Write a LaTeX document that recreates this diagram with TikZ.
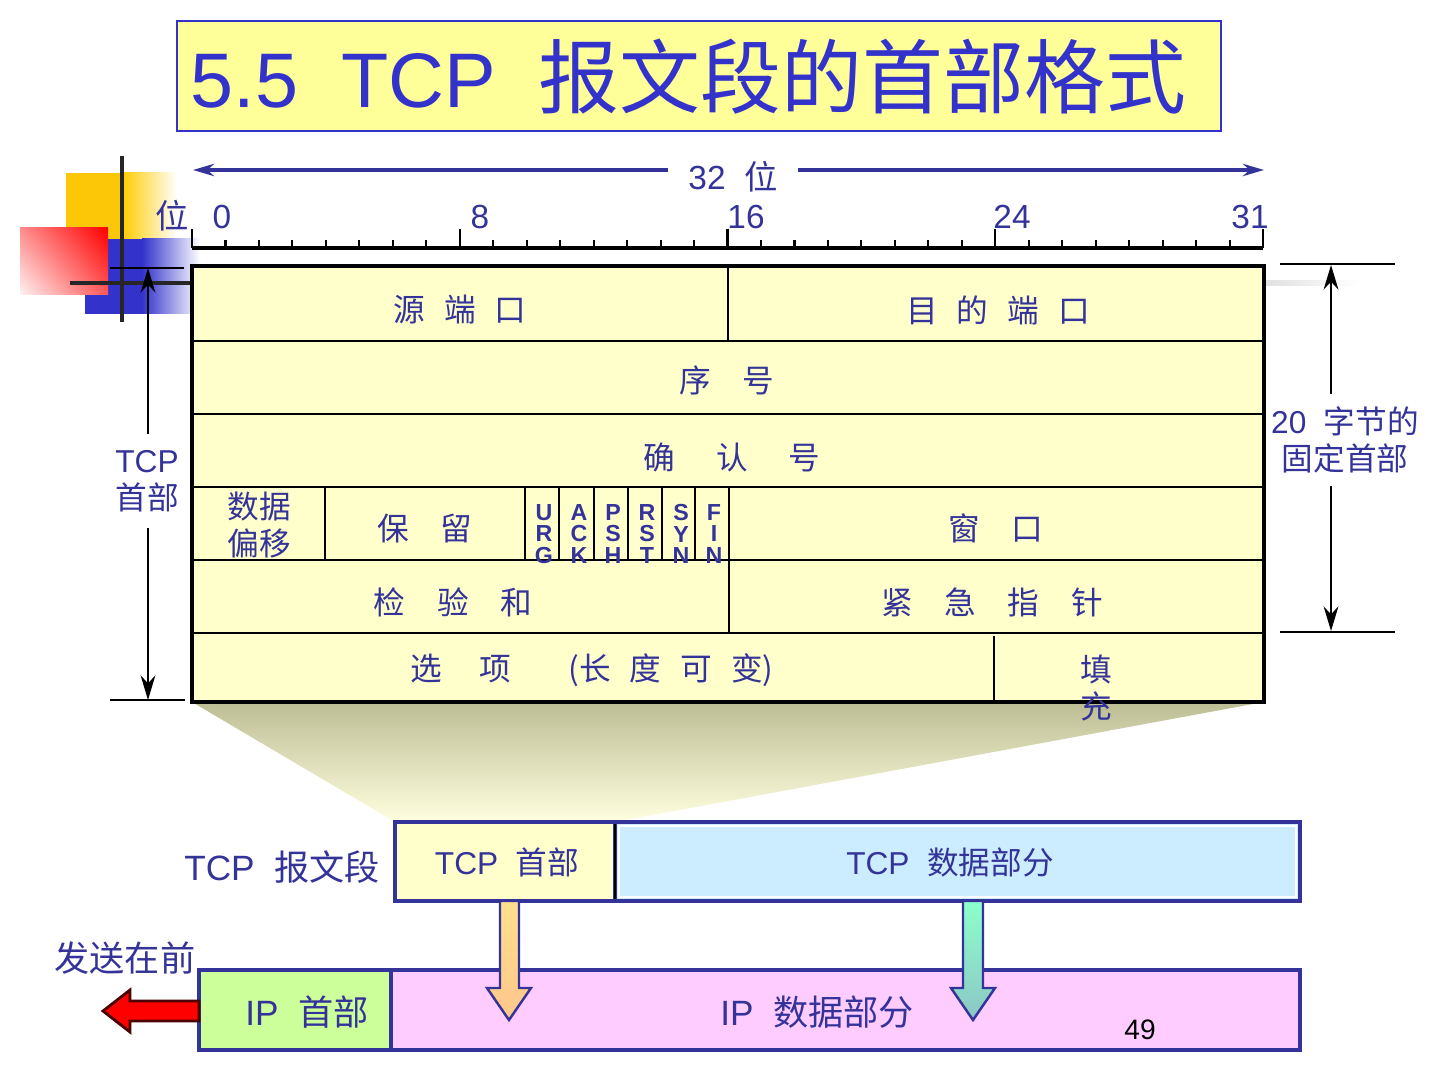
\documentclass[tikz,border=0pt]{standalone}
\usepackage{fontspec}
\setmainfont{Liberation Sans}
\newfontfamily\cjk{Noto Sans CJK SC}
\newcommand{\zh}[1]{{\cjk #1}}
\usetikzlibrary{arrows.meta,shadings}
\definecolor{navy}{HTML}{333399}
\definecolor{titleblue}{HTML}{3333CC}
\definecolor{hdrfill}{HTML}{FFFFCC}
\definecolor{titlefill}{HTML}{FFFF99}
\definecolor{datablue}{HTML}{CCECFF}
\definecolor{ipgreen}{HTML}{CCFF99}
\definecolor{ippink}{HTML}{FFCCFF}
\definecolor{fantop}{HTML}{BDBD94}
\definecolor{fanbot}{HTML}{FFFFE0}

\begin{document}
\begin{tikzpicture}[x=0.01cm,y=-0.01cm,>={Stealth[length=7pt,width=4.2pt]},
  lbltxt/.style={text=navy,inner sep=0pt,font=\fontsize{9}{10.5}\selectfont},
  zhtxt/.style={lbltxt,font=\fontsize{9}{10.5}\selectfont\cjk},
  bigtxt/.style={text=navy,inner sep=0pt,font=\fontsize{10}{12}\selectfont},
  numtxt/.style={text=navy,inner sep=0pt,anchor=base,font=\fontsize{9.5}{11}\selectfont},
  flagtxt/.style={text=navy,inner sep=0pt,align=center,font=\fontsize{6.6}{6.2}\selectfont\bfseries},
  cellline/.style={line width=0.8pt},
  dimline/.style={line width=0.6pt},
  boxline/.style={draw=navy,line width=0.9pt}]
\useasboundingbox (0,0) rectangle (1440,1080);

\fill[yellow!60!orange] (66,173) rectangle (123,240);
\shade[left color=yellow!60!orange,right color=white] (122,173) rectangle (177,240);
\fill[titleblue] (85,239) rectangle (143,314);
\shade[left color=titleblue,right color=white] (142,239) rectangle (200,314);
\shade[upper left=red!45,upper right=red,lower left=red!5,lower right=red!65] (20,228) rectangle (108,295);
\draw[line width=1.4pt,black!85] (122,156) -- (122,322);
\draw[line width=1.4pt,black!85] (70,283) -- (192,283);
\shade[left color=black!12,right color=white] (1266,281) rectangle (1360,286);

\draw[titleblue,fill=titlefill,line width=0.6pt] (177,21) rectangle (1221,131);
\node[anchor=base west,inner sep=0pt,text=titleblue] (title) at (190,108)
  {\fontsize{22}{26}\selectfont 5.5\ \ TCP\ \ \fontsize{23}{28}\selectfont\zh{报文段的首部格式}};

\node[lbltxt,inner xsep=5.5pt,font=\fontsize{9.5}{11}\selectfont] (bits) at (733,177) {32\ \ \zh{位}};
\coordinate (bitsL) at (193,170);
\coordinate (bitsR) at (1264,170);
\draw[->,navy,line width=0.9pt,>={Stealth[length=6pt,width=3.5pt]}] (bits.west |- bitsL) -- (bitsL);
\draw[->,navy,line width=0.9pt,>={Stealth[length=6pt,width=3.5pt]}] (bits.east |- bitsR) -- (bitsR);

\draw[line width=0.9pt] (192,248) -- (1263,248);
\foreach \i in {0,...,32} \draw[line width=0.6pt] ({192+33.47*\i},248) -- ({192+33.47*\i},240);
\foreach \i in {0,8,16,24,32} \draw[line width=0.6pt] ({192+33.47*\i},248) -- ({192+33.47*\i},229);
\node[numtxt] (bitword) at (172,229) {\zh{位}};
\node[numtxt] (bit0) at (222,229) {0};
\node[numtxt] (bit8) at (480,229) {8};
\node[numtxt] (bit16) at (746,229) {16};
\node[numtxt] (bit24) at (1012,229) {24};
\node[numtxt] (bit31) at (1250,229) {31};

\shade[top color=fantop,bottom color=fanbot] (192,702) -- (1264,702) -- (615,822) -- (395,822) -- cycle;

\fill[hdrfill] (192,266) rectangle (1264,702);
\foreach \y in {341,414,487,560,633} \draw[cellline] (192,\y) -- (1264,\y);
\draw[cellline] (728,266) -- (728,341);
\draw[cellline] (325,487) -- (325,560);
\draw[cellline] (525,487) -- (525,560);
\foreach \x in {559,594,628,662,695} \draw[line width=0.6pt] (\x,487) -- (\x,560);
\draw[cellline] (729,487) -- (729,633);
\draw[line width=0.5pt] (994,636) -- (994,700);
\draw[line width=1.3pt] (192,266) rectangle (1264,702);

\node[zhtxt] (srcport) at (460,310) {源\hspace{.6em}端\hspace{.6em}口};
\node[zhtxt] (dstport) at (998,310) {目\hspace{.6em}的\hspace{.6em}端\hspace{.6em}口};
\node[zhtxt] (seqno) at (727,380) {序\hspace{1em}号};
\node[zhtxt] (ackno) at (732,457) {确\hspace{1.3em}认\hspace{1.3em}号};
\node[zhtxt,align=center] (offset) at (259,525) {数据\\偏移};
\node[zhtxt] (resv) at (425,528) {保\hspace{1em}留};
\node[flagtxt] (urg) at (544,534) {U\\R\\G};
\node[flagtxt] (ack) at (579,534) {A\\C\\K};
\node[flagtxt] (psh) at (613,534) {P\\S\\H};
\node[flagtxt] (rst) at (647,534) {R\\S\\T};
\node[flagtxt] (syn) at (681,534) {S\\Y\\N};
\node[flagtxt] (fin) at (714,534) {F\\I\\N};
\node[zhtxt] (window) at (996,528) {窗\hspace{1em}口};
\node[zhtxt] (chksum) at (453,602) {检\hspace{1em}验\hspace{1em}和};
\node[zhtxt] (urgptr) at (992,602) {紧\hspace{1em}急\hspace{1em}指\hspace{1em}针};
\node[zhtxt] (opts) at (592,670) {选\hspace{1.2em}项\hspace{1.8em}(长\hspace{.6em}度\hspace{.6em}可\hspace{.6em}变)};
\node[zhtxt,align=center] (pad) at (1096,688) {填\\充};

\draw[dimline] (110,268) -- (184,268);
\draw[dimline] (110,700) -- (185,700);
\coordinate (hdrT) at (148,268);
\coordinate (hdrB) at (148,700);
\node[lbltxt,align=center,inner ysep=4.5pt] (tcphdr) at (147,481) {TCP\\\zh{首部}};
\draw[dimline,->] (tcphdr.north -| hdrT) -- (hdrT);
\draw[dimline,->] (tcphdr.south -| hdrB) -- (hdrB);

\draw[dimline] (1280,264) -- (1395,264);
\draw[dimline] (1280,632) -- (1395,632);
\coordinate (fixT) at (1331,265);
\coordinate (fixB) at (1331,631);
\node[lbltxt,align=center,inner ysep=3.5pt] (fixhdr) at (1345,440) {20\ \ \zh{字节的}\\\zh{固定首部}};
\draw[dimline,->] (fixhdr.north -| fixT) -- (fixT);
\draw[dimline,->] (fixhdr.south -| fixB) -- (fixB);

\draw[boxline,fill=hdrfill] (395,822) rectangle (615,901);
\draw[boxline,fill=datablue] (615,822) rectangle (1300,901);
\draw[white,line width=0.8pt] (619,826) rectangle (1296,897);
\draw[line width=0.6pt] (615,824) -- (615,899);
\node[bigtxt] (seglbl) at (282,867) {TCP\ \ \zh{报文段}};
\node[lbltxt] (tcphtxt) at (507,862) {TCP\ \ \zh{首部}};
\node[lbltxt] (tcpdtxt) at (950,862) {TCP\ \ \zh{数据部分}};

\draw[boxline,fill=ipgreen] (199,970) rectangle (391,1050);
\draw[boxline,fill=ippink] (391,970) rectangle (1300,1050);
\node[bigtxt] (sendfirst) at (125,958) {\zh{发送在前}};
\node[bigtxt] (iphtxt) at (307,1012) {IP\ \ \zh{首部}};
\node[bigtxt] (ipdtxt) at (817,1012) {IP\ \ \zh{数据部分}};
\node[inner sep=0pt,font=\fontsize{8}{10}\selectfont] (pageno) at (1140,1030) {49};

\shadedraw[top color=yellow!45!orange!45,bottom color=orange!45,draw=navy,line width=0.7pt]
  (500,901) -- (519,901) -- (519,988) -- (531,988) -- (509,1020) -- (487,988) -- (500,988) -- cycle;
\shadedraw[top color=green!45!cyan!45,bottom color=teal!45,draw=navy,line width=0.7pt]
  (963,901) -- (983,901) -- (983,988) -- (995,988) -- (973,1020) -- (951,988) -- (963,988) -- cycle;
\filldraw[fill=red,draw=black!70!red,line width=0.8pt]
  (199,1001) -- (130,1001) -- (130,990) -- (103,1011) -- (130,1032) -- (130,1021) -- (199,1021) -- cycle;
\end{tikzpicture}
\end{document}
